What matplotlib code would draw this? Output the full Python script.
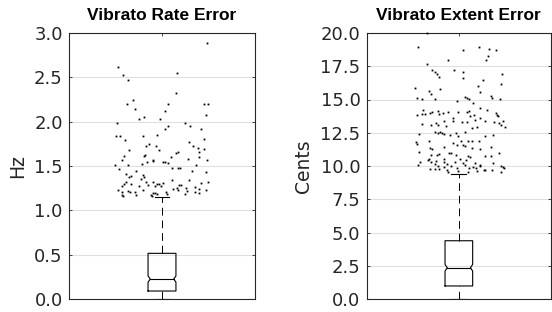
import matplotlib
matplotlib.use("Agg")
import matplotlib.pyplot as plt
import numpy as np

# ---------------- data ----------------
titles = ["Vibrato Rate Error", "Vibrato Extent Error"]
ylabels = ["Hz", "Cents"]

rate_stats = dict(q1=0.09, med=0.225, q3=0.515, cilo=0.19, cihi=0.26, whislo=0.0, whishi=1.153)
extent_stats = dict(q1=0.98, med=2.35, q3=4.38, cilo=2.10, cihi=2.60, whislo=0.0, whishi=9.42)

rate_ticks = [0.0, 0.5, 1.0, 1.5, 2.0, 2.5, 3.0]
extent_ticks = [0.0, 2.5, 5.0, 7.5, 10.0, 12.5, 15.0, 17.5, 20.0]

# outliers: (x jitter around the box centre, value)
rate_out_x = [1.242, 0.763, 0.792, 0.815, 1.081, 1.075, 0.814, 0.846, 0.855, 1.034, 1.016, 1.226,
              1.249, 1.237, 0.878, 0.903, 0.989, 0.756, 1.125, 1.151, 1.030, 1.018, 1.208, 0.753,
              0.776, 0.896, 0.971, 1.226, 0.801, 1.147, 0.932, 0.912, 0.968, 1.165, 0.823, 0.986,
              1.086, 1.075, 1.192, 1.201, 1.226, 0.783, 0.794, 0.903, 0.910, 0.950, 0.953, 1.201,
              1.240, 1.050, 1.142, 0.747, 0.819, 0.891, 0.918, 1.007, 1.018, 1.030, 0.769, 1.056,
              1.084, 1.097, 1.181, 1.161, 0.860, 1.237, 0.806, 0.821, 0.835, 0.900, 0.905, 0.885,
              0.912, 0.806, 0.796, 0.787, 0.833, 0.950, 0.973, 0.984, 1.004, 1.052, 1.143, 1.249,
              1.208, 1.102, 1.090, 0.876, 0.925, 0.961, 0.993, 1.079, 1.086, 1.061, 1.129, 1.177,
              1.201, 1.237, 0.762, 0.785, 0.817, 0.826, 0.853, 0.900, 1.133, 1.177, 1.199, 0.783,
              0.789, 0.858, 0.941, 0.952, 0.964, 0.975, 1.020, 1.025, 1.122, 0.948]
rate_out_y = [2.89, 2.62, 2.53, 2.47, 2.55, 2.32, 2.20, 2.24, 2.14, 2.20, 2.12, 2.20,
              2.20, 2.08, 2.03, 2.05, 2.03, 1.99, 1.98, 1.95, 1.95, 1.92, 1.92, 1.84,
              1.84, 1.84, 1.85, 1.80, 1.79, 1.77, 1.75, 1.73, 1.72, 1.72, 1.68, 1.68,
              1.66, 1.65, 1.70, 1.66, 1.69, 1.57, 1.61, 1.61, 1.62, 1.57, 1.56, 1.60,
              1.57, 1.60, 1.58, 1.51, 1.51, 1.52, 1.55, 1.54, 1.54, 1.53, 1.47, 1.48,
              1.48, 1.48, 1.51, 1.44, 1.44, 1.43, 1.41, 1.38, 1.39, 1.40, 1.38, 1.35,
              1.32, 1.32, 1.30, 1.27, 1.30, 1.32, 1.30, 1.30, 1.31, 1.34, 1.34, 1.32,
              1.31, 1.29, 1.29, 1.28, 1.29, 1.28, 1.27, 1.25, 1.23, 1.24, 1.25, 1.26,
              1.24, 1.23, 1.23, 1.21, 1.22, 1.21, 1.21, 1.23, 1.22, 1.21, 1.20, 1.17,
              1.16, 1.17, 1.17, 1.19, 1.20, 1.18, 1.21, 1.18, 1.18, 1.16]

extent_out_x = [0.776, 0.825, 1.025, 1.108, 1.164, 1.204, 1.148, 1.159, 0.825, 0.940, 0.971, 0.857,
                0.870, 0.883, 0.894, 1.023, 1.025, 1.236, 1.231, 1.132, 1.103, 0.762, 0.839, 0.850,
                0.897, 1.116, 0.771, 0.800, 0.868, 0.989, 1.031, 1.043, 1.054, 1.173, 1.179, 1.222,
                1.078, 0.805, 0.774, 0.818, 0.843, 0.857, 0.886, 0.894, 0.915, 0.942, 0.993, 1.042,
                1.056, 1.116, 1.153, 1.200, 1.206, 1.211, 1.238, 1.216, 1.229, 1.249, 0.798, 0.798,
                0.848, 0.877, 0.888, 0.917, 0.928, 0.966, 0.969, 1.018, 1.042, 1.061, 1.083, 1.088,
                1.114, 1.144, 1.190, 0.782, 0.868, 0.888, 0.897, 0.906, 0.921, 0.951, 0.984, 0.996,
                1.034, 1.074, 1.096, 1.141, 1.186, 0.767, 0.773, 0.836, 0.969, 0.989, 1.013, 1.020,
                1.036, 1.051, 1.070, 1.112, 1.175, 0.841, 0.857, 0.922, 1.070, 1.114, 0.785, 1.220,
                0.847, 0.884, 0.894, 0.944, 0.957, 0.984, 1.051, 1.144, 1.173, 0.839, 0.834, 0.875,
                0.922, 1.004, 1.040, 1.063, 0.850, 0.868, 0.922, 0.937, 0.977, 1.020, 1.032, 1.087,
                1.184, 0.776, 0.791, 1.117, 1.226, 0.888, 0.919, 0.955, 0.991, 1.054, 1.078, 1.092,
                1.114, 1.137, 1.238, 1.247, 0.870, 0.894, 0.841, 0.933, 0.942, 0.998, 1.051, 1.096,
                1.144, 1.180, 1.229]
extent_out_y = [18.95, 19.98, 18.70, 18.92, 18.82, 18.70, 17.99, 18.30, 17.67, 17.97, 17.24, 17.19,
                17.07, 16.89, 16.69, 17.04, 16.62, 16.94, 16.17, 16.44, 16.04, 15.86, 15.61, 15.41,
                15.76, 15.54, 15.09, 15.04, 15.04, 14.91, 15.16, 15.09, 15.04, 15.24, 15.11, 15.04,
                14.74, 14.24, 13.86, 13.88, 13.98, 14.04, 14.11, 13.91, 13.98, 14.09, 14.04, 14.09,
                14.14, 14.36, 14.24, 13.98, 13.86, 13.73, 13.36, 13.23, 13.11, 12.96, 13.91, 13.16,
                13.08, 13.23, 13.11, 13.41, 12.98, 13.58, 13.36, 13.33, 13.28, 13.76, 13.83, 13.48,
                13.61, 13.36, 13.31, 12.38, 12.53, 12.48, 12.53, 12.48, 12.41, 12.36, 12.48, 12.23,
                12.53, 12.86, 12.93, 12.28, 12.36, 11.78, 11.65, 11.85, 11.73, 11.60, 11.90, 11.55,
                11.48, 11.90, 11.85, 11.88, 11.43, 11.35, 11.28, 11.43, 11.38, 11.30, 11.08, 11.00,
                10.83, 10.85, 10.90, 10.98, 10.98, 10.83, 10.73, 10.78, 10.73, 10.55, 10.45, 10.40,
                10.53, 10.53, 10.45, 10.68, 10.28, 10.18, 10.28, 10.18, 10.30, 10.23, 10.10, 10.23,
                10.20, 10.10, 10.28, 10.10, 10.03, 9.97, 9.92, 9.97, 9.87, 9.87, 9.95, 9.87,
                9.97, 9.72, 9.92, 9.82, 9.80, 9.77, 9.80, 9.72, 9.55, 9.60, 9.52, 9.62,
                9.67, 9.72, 9.52]

# ---------------- style ----------------
plt.rcParams['font.family'] = ['DejaVu Sans']
AX_COL = '#262626'
GRID_COL = '#dfdfdf'

fig = plt.figure(figsize=(5.52, 3.12), dpi=100)
positions = [[69/552, 13/312, 186/552, 266/312],
             [366.7/552, 13/312, 184.3/552, 266/312]]

panels = [
    (rate_stats, rate_ticks, rate_out_x, rate_out_y, (0, 3.0)),
    (extent_stats, extent_ticks, extent_out_x, extent_out_y, (0, 20.0)),
]

BOX_HW = 0.075     # half width of box
NOTCH_HW = 0.063   # half width at the median
CAP_HW = 0.04

for i, (st, ticks, ox, oy, ylim) in enumerate(panels):
    ax = fig.add_axes(positions[i])
    ax.set_xlim(0.5, 1.5)
    ax.set_ylim(*ylim)
    ax.set_yticks(ticks)
    ax.set_yticklabels([f"{t:.1f}" for t in ticks])
    ax.set_xticks([1])
    ax.set_xticklabels([""])
    ax.yaxis.grid(True, color=GRID_COL, lw=0.8)
    ax.set_axisbelow(True)
    for sp in ax.spines.values():
        sp.set_color(AX_COL)
        sp.set_linewidth(0.8)
    ax.tick_params(direction='in', length=2.5, width=0.6, colors=AX_COL,
                   labelsize=13, top=True, right=True, pad=4.5)
    ax.set_title(titles[i], fontsize=12.5, fontweight='bold', pad=9, color='black',
                 family=['Liberation Sans', 'DejaVu Sans'])
    ax.set_ylabel(ylabels[i], fontsize=13.5, color=AX_COL, labelpad=5)

    c = 1.0
    # notched box outline
    bx = [c - BOX_HW, c + BOX_HW, c + BOX_HW, c + NOTCH_HW, c + BOX_HW, c + BOX_HW,
          c - BOX_HW, c - BOX_HW, c - NOTCH_HW, c - BOX_HW, c - BOX_HW]
    by = [st['q1'], st['q1'], st['cilo'], st['med'], st['cihi'], st['q3'],
          st['q3'], st['cihi'], st['med'], st['cilo'], st['q1']]
    ax.plot(bx, by, color='black', lw=0.8, zorder=3)
    ax.plot([c - NOTCH_HW, c + NOTCH_HW], [st['med'], st['med']], color='black', lw=0.8, zorder=3)
    # whiskers
    ax.plot([c, c], [st['q3'], st['whishi']], color='black', lw=0.7,
            dashes=(8, 5), zorder=3)
    ax.plot([c, c], [st['whislo'], st['q1']], color='black', lw=0.7,
            dashes=(8, 5), zorder=3)
    ax.plot([c - CAP_HW, c + CAP_HW], [st['whishi'], st['whishi']], color='black', lw=0.8, zorder=3)
    ax.plot([c - CAP_HW, c + CAP_HW], [st['whislo'], st['whislo']], color='black', lw=0.8, zorder=3)
    # outliers
    ax.plot(ox, oy, linestyle='none', marker='s', ms=1.3, mew=0, color='black', zorder=4,
            clip_on=False)

fig.savefig("out.png", dpi=100)
